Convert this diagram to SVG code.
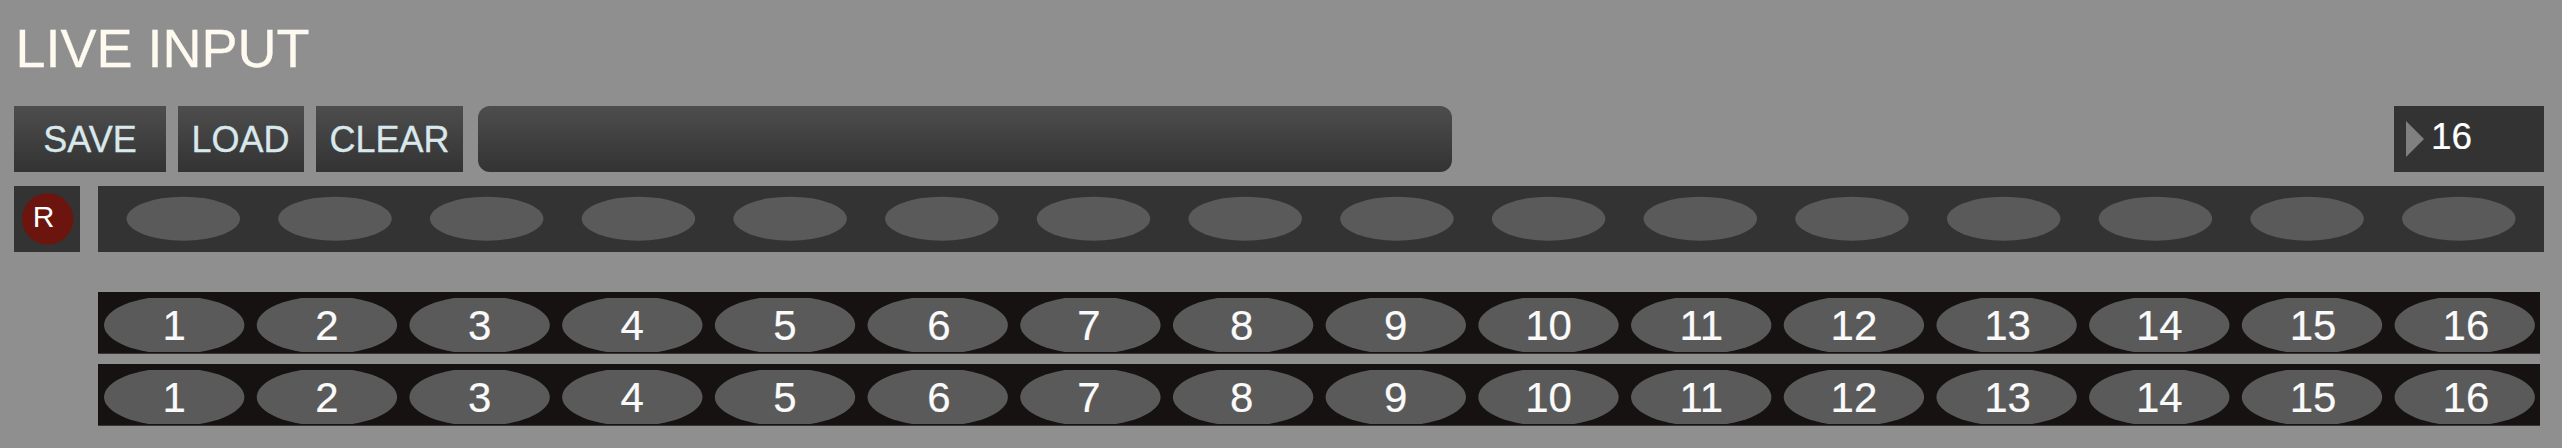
<svg xmlns="http://www.w3.org/2000/svg" width="2562" height="448" viewBox="0 0 2562 448">
<style>
text{font-family:"Liberation Sans",Arial,sans-serif}
.btn{font-size:36px;fill:#d8e8ec;text-anchor:middle;stroke:#d8e8ec;stroke-width:.3px}
.n{font-size:42px;fill:#fafafa;text-anchor:middle;stroke:#fafafa;stroke-width:.2px}
.e{fill:#5a5a5a}
.row{fill:#333}
.row2{fill:#151211}
</style>
<defs>
<linearGradient id="g" x1="0" y1="0" x2="0" y2="1"><stop offset="0" stop-color="#4d4d4d"/><stop offset="1" stop-color="#333"/></linearGradient>
<clipPath id="c1"><rect x="98" y="298" width="2442" height="54"/></clipPath>
<clipPath id="c2"><rect x="98" y="370" width="2442" height="54"/></clipPath>
</defs>
<rect width="2562" height="448" fill="#8f8f8f"/>
<text id="title" x="15.500" y="67" font-size="54" fill="#fffaf0" stroke="#fffaf0" stroke-width=".3">LIVE INPUT</text>
<g id="save"><rect x="14" y="106" width="152" height="66" fill="url(#g)"/><text class="btn" x="90" y="152">SAVE</text></g>
<g id="load"><rect x="178" y="106" width="126" height="66" fill="url(#g)"/><text class="btn" x="240.500" y="152">LOAD</text></g>
<g id="clear"><rect x="316" y="106" width="147" height="66" fill="url(#g)"/><text class="btn" x="389.500" y="152">CLEAR</text></g>
<g id="bar"><rect x="478" y="106" width="974" height="66" rx="12" fill="url(#g)"/></g>
<g id="length"><rect x="2394" y="106" width="150" height="66" fill="#333"/><path d="M2406 121L2424 139L2406 157Z" fill="#808080"/><text x="2431" y="149" font-size="37" fill="#fff" stroke="#fff" stroke-width=".2">16</text></g>
<g id="rec"><rect x="14" y="186" width="66" height="66" fill="#333"/><circle cx="47.700" cy="219" r="25.700" fill="#6b150e"/><text x="43.500" y="226.500" font-size="30" fill="#fff" text-anchor="middle">R</text></g>
<g id="lights"><rect class="row" x="98" y="186" width="2446" height="66"/>
<ellipse class="e" cx="183.300" cy="218.700" rx="56.700" ry="22"/><ellipse class="e" cx="335" cy="218.700" rx="56.700" ry="22"/><ellipse class="e" cx="486.700" cy="218.700" rx="56.700" ry="22"/><ellipse class="e" cx="638.400" cy="218.700" rx="56.700" ry="22"/><ellipse class="e" cx="790.100" cy="218.700" rx="56.700" ry="22"/><ellipse class="e" cx="941.800" cy="218.700" rx="56.700" ry="22"/><ellipse class="e" cx="1093.500" cy="218.700" rx="56.700" ry="22"/><ellipse class="e" cx="1245.200" cy="218.700" rx="56.700" ry="22"/><ellipse class="e" cx="1396.900" cy="218.700" rx="56.700" ry="22"/><ellipse class="e" cx="1548.600" cy="218.700" rx="56.700" ry="22"/><ellipse class="e" cx="1700.300" cy="218.700" rx="56.700" ry="22"/><ellipse class="e" cx="1852" cy="218.700" rx="56.700" ry="22"/><ellipse class="e" cx="2003.700" cy="218.700" rx="56.700" ry="22"/><ellipse class="e" cx="2155.400" cy="218.700" rx="56.700" ry="22"/><ellipse class="e" cx="2307.100" cy="218.700" rx="56.700" ry="22"/><ellipse class="e" cx="2458.800" cy="218.700" rx="56.700" ry="22"/>
</g>
<g id="row1"><rect class="row2" x="98" y="292" width="2442" height="61.700"/>
<g clip-path="url(#c1)">
<ellipse class="e" cx="174.200" cy="325" rx="70.200" ry="29"/><ellipse class="e" cx="326.900" cy="325" rx="70.200" ry="29"/><ellipse class="e" cx="479.600" cy="325" rx="70.200" ry="29"/><ellipse class="e" cx="632.300" cy="325" rx="70.200" ry="29"/><ellipse class="e" cx="785" cy="325" rx="70.200" ry="29"/><ellipse class="e" cx="937.700" cy="325" rx="70.200" ry="29"/><ellipse class="e" cx="1090.400" cy="325" rx="70.200" ry="29"/><ellipse class="e" cx="1243.100" cy="325" rx="70.200" ry="29"/><ellipse class="e" cx="1395.800" cy="325" rx="70.200" ry="29"/><ellipse class="e" cx="1548.500" cy="325" rx="70.200" ry="29"/><ellipse class="e" cx="1701.200" cy="325" rx="70.200" ry="29"/><ellipse class="e" cx="1853.900" cy="325" rx="70.200" ry="29"/><ellipse class="e" cx="2006.600" cy="325" rx="70.200" ry="29"/><ellipse class="e" cx="2159.300" cy="325" rx="70.200" ry="29"/><ellipse class="e" cx="2312" cy="325" rx="70.200" ry="29"/><ellipse class="e" cx="2464.700" cy="325" rx="70.200" ry="29"/>
</g>
<text class="n" x="174.200" y="339.700">1</text><text class="n" x="326.900" y="339.700">2</text><text class="n" x="479.600" y="339.700">3</text><text class="n" x="632.300" y="339.700">4</text><text class="n" x="785" y="339.700">5</text><text class="n" x="938.900" y="339.700">6</text><text class="n" x="1088.900" y="339.700">7</text><text class="n" x="1241.800" y="339.700">8</text><text class="n" x="1395.800" y="339.700">9</text><text class="n" x="1548.500" y="339.700">10</text><text class="n" x="1701.200" y="339.700">11</text><text class="n" x="1853.900" y="339.700">12</text><text class="n" x="2007.600" y="339.700">13</text><text class="n" x="2159.300" y="339.700">14</text><text class="n" x="2313" y="339.700">15</text><text class="n" x="2465.900" y="339.700">16</text>
</g>
<g id="row2"><rect class="row2" x="98" y="364" width="2442" height="61.700"/>
<g clip-path="url(#c2)">
<ellipse class="e" cx="174.200" cy="397" rx="70.200" ry="29"/><ellipse class="e" cx="326.900" cy="397" rx="70.200" ry="29"/><ellipse class="e" cx="479.600" cy="397" rx="70.200" ry="29"/><ellipse class="e" cx="632.300" cy="397" rx="70.200" ry="29"/><ellipse class="e" cx="785" cy="397" rx="70.200" ry="29"/><ellipse class="e" cx="937.700" cy="397" rx="70.200" ry="29"/><ellipse class="e" cx="1090.400" cy="397" rx="70.200" ry="29"/><ellipse class="e" cx="1243.100" cy="397" rx="70.200" ry="29"/><ellipse class="e" cx="1395.800" cy="397" rx="70.200" ry="29"/><ellipse class="e" cx="1548.500" cy="397" rx="70.200" ry="29"/><ellipse class="e" cx="1701.200" cy="397" rx="70.200" ry="29"/><ellipse class="e" cx="1853.900" cy="397" rx="70.200" ry="29"/><ellipse class="e" cx="2006.600" cy="397" rx="70.200" ry="29"/><ellipse class="e" cx="2159.300" cy="397" rx="70.200" ry="29"/><ellipse class="e" cx="2312" cy="397" rx="70.200" ry="29"/><ellipse class="e" cx="2464.700" cy="397" rx="70.200" ry="29"/>
</g>
<text class="n" x="174.200" y="411.700">1</text><text class="n" x="326.900" y="411.700">2</text><text class="n" x="479.600" y="411.700">3</text><text class="n" x="632.300" y="411.700">4</text><text class="n" x="785" y="411.700">5</text><text class="n" x="938.900" y="411.700">6</text><text class="n" x="1088.900" y="411.700">7</text><text class="n" x="1241.800" y="411.700">8</text><text class="n" x="1395.800" y="411.700">9</text><text class="n" x="1548.500" y="411.700">10</text><text class="n" x="1701.200" y="411.700">11</text><text class="n" x="1853.900" y="411.700">12</text><text class="n" x="2007.600" y="411.700">13</text><text class="n" x="2159.300" y="411.700">14</text><text class="n" x="2313" y="411.700">15</text><text class="n" x="2465.900" y="411.700">16</text>
</g>
</svg>
